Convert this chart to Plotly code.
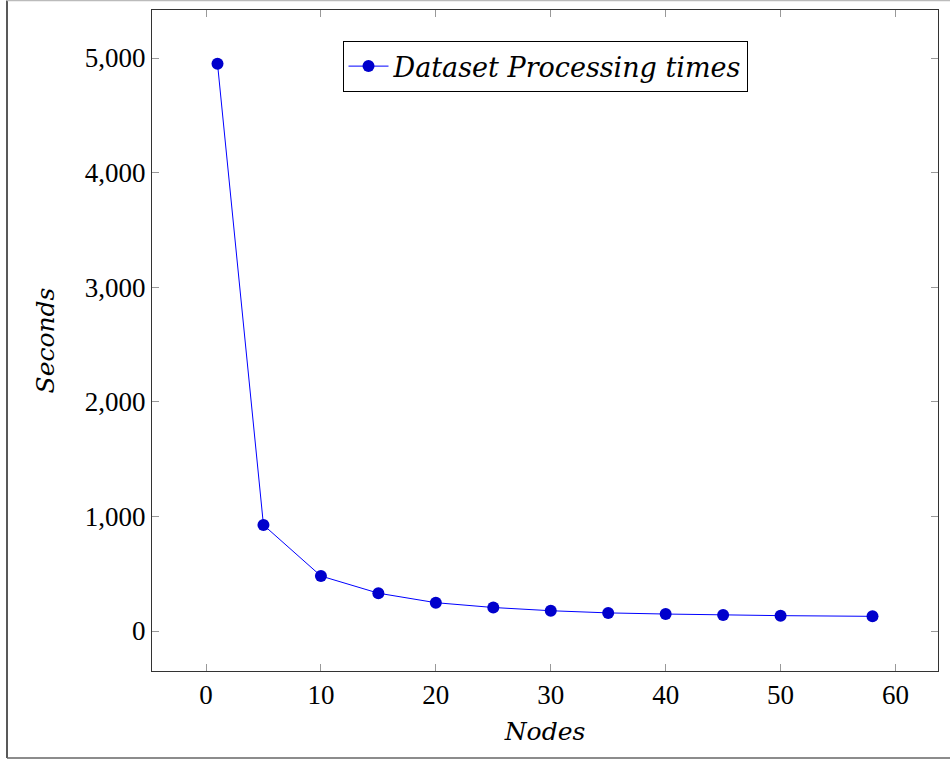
import plotly.graph_objects as go

nodes = [1, 5, 10, 15, 20, 25, 30, 35, 40, 45, 50, 58]
seconds = [4950, 925, 480, 330, 247, 205, 177, 158, 148, 140, 134, 128]
series_name = "Dataset Processing times"

W, H = 950, 760
L, R, T, B = 152, 12, 10, 89
pw, ph = W - L - R, H - T - B

fig = go.Figure()
fig.add_trace(go.Scatter(
    x=nodes, y=seconds, mode="lines+markers", name=series_name,
    line=dict(color="#0000ff", width=1),
    marker=dict(color="#0000cc", size=12, symbol="circle"),
))

font = "Liberation Serif"
ifont = "DejaVu Serif"
fig.update_layout(
    width=W, height=H,
    margin=dict(l=L, r=R, t=T, b=B),
    paper_bgcolor="white", plot_bgcolor="white",
    font=dict(family=font, size=27, color="black"),
    showlegend=True,
    legend=dict(
        x=0.5, y=0.953, xanchor="center", yanchor="top",
        bordercolor="black", borderwidth=1, bgcolor="white",
        font=dict(family=ifont, size=27, style="italic"),
        itemwidth=40,
    ),
    xaxis=dict(
        range=[-4.7, 63.7], dtick=10, tick0=0,
        showgrid=False, zeroline=False,
        showline=True, linecolor="#333", linewidth=1, mirror="ticks",
        ticks="inside", ticklen=7, tickcolor="#999", tickwidth=1,
        tickfont=dict(family=font, size=27),
        title=dict(text="Nodes", font=dict(family=ifont, size=25, style="italic"), standoff=13),
    ),
    yaxis=dict(
        range=[-349, 5419], dtick=1000, tick0=0, tickformat=",d",
        showgrid=False, zeroline=False,
        showline=True, linecolor="#333", linewidth=1, mirror="ticks",
        ticks="inside", ticklen=7, tickcolor="#999", tickwidth=1,
        tickfont=dict(family=font, size=27),
        title=dict(text="Seconds", font=dict(family=ifont, size=25, style="italic"), standoff=23),
    ),
)

# outer figure border (left/bottom dark, top light; right edge runs off the page)
fig.add_shape(
    type="line", xref="paper", yref="paper",
    x0=(7 - L) / pw, x1=(7 - L) / pw,
    y0=(H - B - 758) / ph, y1=(H - B - 0.5) / ph,
    line=dict(color="#222", width=1.5), layer="below",
)
fig.add_shape(
    type="line", xref="paper", yref="paper",
    x0=(7 - L) / pw, x1=(960 - L) / pw,
    y0=(H - B - 758) / ph, y1=(H - B - 758) / ph,
    line=dict(color="#666", width=1.5), layer="below",
)
fig.add_shape(
    type="line", xref="paper", yref="paper",
    x0=(7 - L) / pw, x1=(960 - L) / pw,
    y0=(H - B - 0.5) / ph, y1=(H - B - 0.5) / ph,
    line=dict(color="#bbb", width=1.5), layer="below",
)

fig.write_html(
    "out.html",
    config={"displayModeBar": False},
    post_script="document.body.style.margin='0';document.body.style.overflow='hidden';",
)
